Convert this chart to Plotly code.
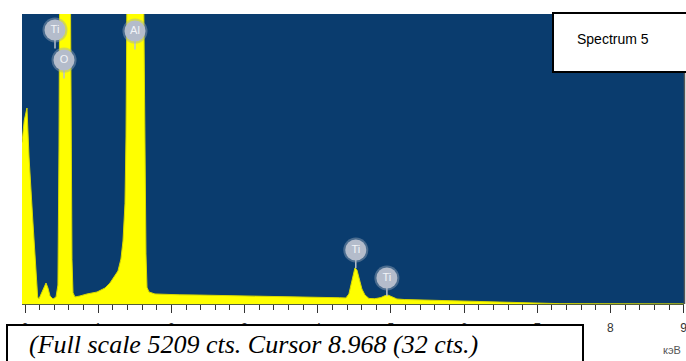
import plotly.graph_objects as go

# Spectrum (energy in keV, counts)
energy_kev = [-0.041, -0.01, 0.027, 0.055, 0.109, 0.150, 0.173, 0.19, 0.246, 0.287, 0.314, 0.342,
              0.383, 0.424, 0.45, 0.464, 0.478, 0.546, 0.615, 0.628, 0.642, 0.656, 0.683, 0.75,
              0.847, 0.984, 1.093, 1.161, 1.23, 1.27, 1.311, 1.339, 1.366, 1.38, 1.393, 1.434,
              1.516, 1.598, 1.626, 1.639, 1.653, 1.667, 1.694, 1.776, 1.913, 2.117, 2.39, 2.66,
              2.94, 3.21, 3.48, 3.757, 4.03, 4.30, 4.385, 4.426, 4.454, 4.481, 4.508, 4.536,
              4.563, 4.604, 4.645, 4.70, 4.78, 4.863, 4.918, 4.959, 5.014, 5.082, 5.19, 5.396,
              5.67, 5.94, 6.216, 6.489, 6.694, 6.76, 7.036, 7.31, 7.855, 9.0]
counts = [2900, 3300, 3520, 2640, 1455, 557, 126, 90, 251, 377, 287, 144,
          90, 126, 341, 2766, 7000, 9000, 7000, 3000, 800, 200, 126, 144,
          180, 215, 287, 377, 503, 593, 808, 1131, 1800, 3000, 5500, 9000,
          11000, 9000, 5000, 2500, 900, 300, 216, 180, 171, 165, 160, 155,
          150, 140, 130, 126, 120, 112, 108, 180, 341, 521, 647, 611,
          467, 269, 162, 100, 95, 115, 150, 160, 130, 90, 80, 75,
          65, 60, 45, 35, 28, 15, 8, 6, 4, 2]

# Element labels
label_text = ["Ti", "O", "Al", "Ti", "Ti"]
label_energy = [0.41, 0.533, 1.503, 4.52, 4.945]
label_counts = [4921, 4382, 4903, 970, 467]

tick_vals = [0, 1, 2, 3, 4, 5, 6, 7, 8, 9]
tick_text = ["0", "1", "2", "3", "4", "5", "6", "7", "8", "9"]

full_scale = 5209
x_range = [-0.041, 9.005]

BLUE = "#0a3c6e"
YELLOW = "#ffff00"

fig = go.Figure()

fig.add_trace(go.Scatter(
    x=energy_kev, y=counts, mode="lines", fill="tozeroy",
    line=dict(color="#d8d800", width=1), fillcolor=YELLOW, hoverinfo="skip"))

# stems below label circles
stem_x, stem_y = [], []
stem_len = 330
for e, c in zip(label_energy, label_counts):
    stem_x += [e, e, None]
    stem_y += [c, c - stem_len, None]
fig.add_trace(go.Scatter(x=stem_x, y=stem_y, mode="lines",
                         line=dict(color="#b9c1cd", width=1.5), hoverinfo="skip"))

# soft halo
fig.add_trace(go.Scatter(x=label_energy, y=label_counts, mode="markers",
                         marker=dict(size=25, color="#9aa6b8", opacity=0.45, line=dict(width=0)),
                         hoverinfo="skip"))
fig.add_trace(go.Scatter(x=label_energy, y=label_counts, mode="markers+text",
                         text=label_text, textposition="middle center",
                         textfont=dict(family="Liberation Sans", size=11, color="#f2f4f8"),
                         marker=dict(size=21, color="#b4bccb", line=dict(width=0)),
                         hoverinfo="skip"))

fig.update_layout(
    width=686, height=361,
    margin=dict(l=22, r=2, t=14, b=57, autoexpand=False),
    paper_bgcolor="white", plot_bgcolor=BLUE,
    showlegend=False,
    xaxis=dict(range=x_range, tickvals=tick_vals, ticktext=tick_text,
               ticks="outside", ticklen=8, tickwidth=1, tickcolor="#333333",
               minor=dict(ticks="outside", ticklen=5, dtick=0.2, tickcolor="#333333", tickwidth=1),
               showgrid=False, zeroline=False, showline=True, linecolor="#55603a", linewidth=1,
               tickfont=dict(family="Liberation Sans", size=12, color="#333333"),
               ticklabelstandoff=5, ticklabeloverflow="allow", automargin=False, fixedrange=True),
    yaxis=dict(range=[0, full_scale], showticklabels=False, showgrid=False,
               zeroline=False, ticks="", automargin=False, fixedrange=True),
)

W = 662.0
H = 290.0
def px(xp):
    return (xp - 22) / W
def py(yp):
    return (304 - yp) / H

# right border line
fig.add_shape(type="line", xref="paper", yref="paper", x0=px(684.5), x1=px(684.5), y0=0, y1=1,
              line=dict(color="#555555", width=1.5), layer="above")

# Spectrum label box
fig.add_shape(type="rect", xref="paper", yref="paper",
              x0=px(553), x1=px(688), y0=py(72), y1=py(13),
              fillcolor="white", line=dict(color="black", width=2), layer="above")
fig.add_annotation(xref="paper", yref="paper", x=px(575), y=py(39), xanchor="left", yanchor="middle",
                   text="Spectrum 5", showarrow=False,
                   font=dict(family="Liberation Sans", size=14, color="black"))

# bottom info box
fig.add_shape(type="rect", xref="paper", yref="paper",
              x0=px(7), x1=px(583), y0=py(366), y1=py(325),
              fillcolor="white", line=dict(color="black", width=2), layer="above")
fig.add_annotation(xref="paper", yref="paper", x=px(27), y=py(344), xanchor="left", yanchor="middle",
                   text="<i>(Full scale 5209 cts. Cursor 8.968 (32 cts.)</i>", showarrow=False,
                   font=dict(family="Liberation Serif", size=26, color="black"))

fig.add_annotation(xref="paper", yref="paper", x=px(661), y=py(350), xanchor="left", yanchor="middle",
                   text="кэВ", showarrow=False,
                   font=dict(family="Liberation Sans", size=11, color="#555555"))

fig.write_html("out.html", config={"displayModeBar": False, "staticPlot": True},
               post_script="document.body.style.margin='0';document.body.style.padding='0';"
                           "document.documentElement.style.overflow='hidden';")
